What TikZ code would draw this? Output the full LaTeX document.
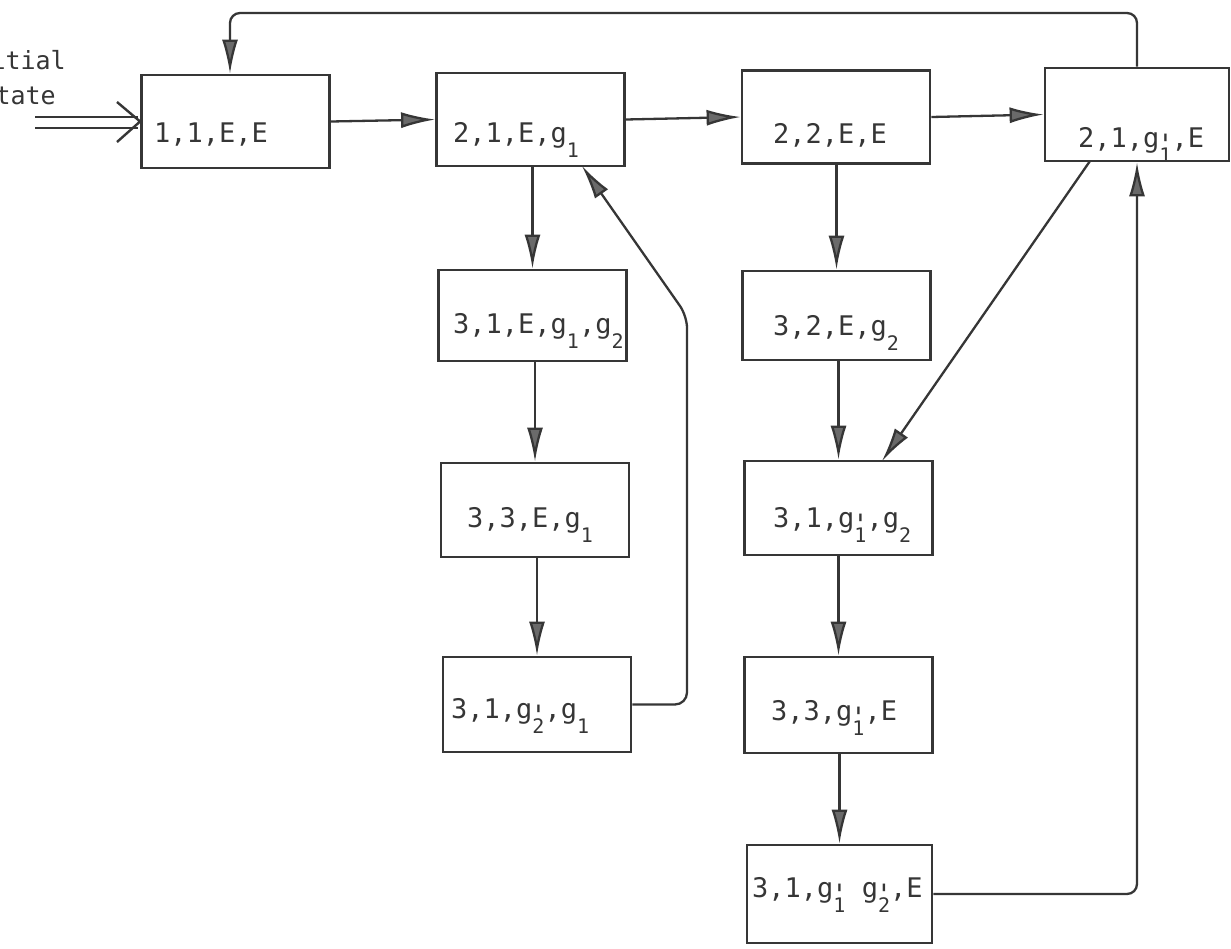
\documentclass[tikz,border=0pt]{standalone}
\usepackage{fontspec}
\usetikzlibrary{arrows.meta}
\newfontfamily\labfam[Ligatures=TeXOff]{DejaVu Sans Mono}
\newcommand{\labfont}{\labfam\fontsize{27}{31}\selectfont}
\newcommand{\subs}[1]{\raisebox{-15pt}{\fontsize{20}{20}\selectfont #1}}
\newcommand{\subpr}[1]{\rlap{\makebox[12pt]{\raisebox{-7pt}{\fontsize{28}{28}\selectfont '}}}\subs{#1}}
\definecolor{ink}{HTML}{363636}
\definecolor{tipc}{HTML}{6A6A6A}
\begin{document}
\begin{tikzpicture}[x=1pt,y=-1pt,
  box/.style={draw=ink, line width=2.8pt, minimum width=188pt, minimum height=93pt, inner sep=0pt},
  lab/.style={anchor=base west, inner sep=0pt, font=\labfont, text=ink},
  arr/.style={draw=ink, line width=2.3pt, -{Latex[length=34pt,width=16pt,fill=tipc]}},
  plain/.style={draw=ink, line width=2.4pt}]
\useasboundingbox[fill=white] (0,0) rectangle (1231,948);
\clip (0,0) rectangle (1231,948);

% boxes
\node[box] (A)  at (235.5,121.5) {};
\node[box] (B)  at (530.5,119.5) {};
\node[box] (C)  at (836,117) {};
\node[box, minimum width=184pt] (D)  at (1137,114.5) {};
\node[box, minimum height=91pt] (B2) at (532.5,315.5) {};
\node[box, minimum height=94pt] (B3) at (535,510) {};
\node[box, minimum height=95pt] (B4) at (537,704.5) {};
\node[box, minimum height=89pt] (C2) at (836.5,315.5) {};
\node[box, minimum height=94pt] (C3) at (838.5,508) {};
\node[box, minimum height=96pt] (C4) at (838.5,705) {};
\node[box, minimum width=185pt, minimum height=98pt] (C5) at (839.5,894) {};

% labels
\node[lab] (tA)  at (154,142) {1,1,E,E};
\node[lab] (tB)  at (453,142) {2,1,E,g\subs{1}};
\node[lab] (tC)  at (773,143) {2,2,E,E};
\node[lab] (tD)  at (1078,147) {2,1,g\subpr{1},E};
\node[lab] (tB2) at (453,333) {3,1,E,g\subs{1},g\subs{2}};
\node[lab] (tB3) at (467,527) {3,3,E,g\subs{1}};
\node[lab] (tB4) at (451,718) {3,1,g\subpr{2},g\subs{1}};
\node[lab] (tC2) at (773,335) {3,2,E,g\subs{2}};
\node[lab] (tC3) at (773,527) {3,1,g\subpr{1},g\subs{2}};
\node[lab] (tC4) at (771,720) {3,3,g\subpr{1},E};
\node[lab] (tC5) at (752,897) {3,1,g\subpr{1} g\subpr{2},E};

% initial state
\node[anchor=base east, inner sep=0pt, font=\labfam\fontsize{25}{28}\selectfont, text=ink] (init1) at (66,69) {Initial};
\node[anchor=base east, inner sep=0pt, font=\labfam\fontsize{25}{28}\selectfont, text=ink] (init2) at (56,104) {state};
\coordinate (ia1) at (35,117);
\coordinate (ia2) at (35,128);
\coordinate (ib1) at (138,117);
\coordinate (ib2) at (138,128);
\coordinate (ic1) at (117,102);
\coordinate (ic2) at (117,142);
\draw[plain] (ia1) -- (ib1);
\draw[plain] (ia2) -- (ib2);
\draw[plain, line join=miter] (ic1) -- (A.west) -- (ic2);

% horizontal connectors
\draw[arr] (A.east) -- (B.west);
\draw[arr] (B.east) -- (C.west);
\draw[arr] (C.east) -- (D.west);

% vertical connectors, column B
\draw[arr] (B2.north |- B.south) -- (B2.north);
\draw[arr] (B3.north |- B2.south) -- (B3.north);
\draw[arr] (B4.north |- B3.south) -- (B4.north);

% vertical connectors, column C
\draw[arr] (C2.north |- C.south) -- (C2.north);
\draw[arr] (C3.north |- C2.south) -- (C3.north);
\draw[arr] (C4.north |- C3.south) -- (C4.north);
\draw[arr] (C5.north |- C4.south) -- (C5.north);

% top feedback loop
\coordinate (tr) at (1137,13);
\coordinate (tl) at (230,13);
\draw[arr, rounded corners=10pt] (D.north) -- (tr) -- (tl) -- (tl |- A.north);

% feedback from 3,1,g2',g1 to 2,1,E,g1
\coordinate (b4c) at (687,704.5);
\coordinate (b4u) at (687,316);
\coordinate (bt) at (582,166);
\draw[arr, rounded corners=12pt] (B4.east) -- (b4c) -- (b4u) -- (bt);

% diagonal from D to C3
\coordinate (dbot) at (1090,161);
\coordinate (c3top) at (882,461);
\draw[arr] (dbot) -- (c3top);

% from C5 up to D
\coordinate (c5r) at (1137,894);
\draw[arr, rounded corners=10pt] (C5.east) -- (c5r) -- (D.south);
\end{tikzpicture}
\end{document}
